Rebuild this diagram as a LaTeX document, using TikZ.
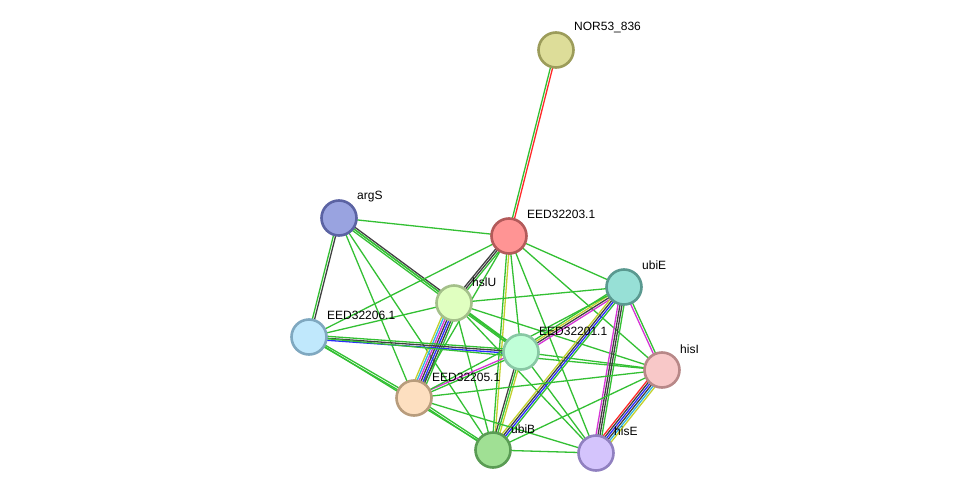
\documentclass[tikz,border=0pt]{standalone}
\usepackage{fontspec}
\setmainfont{Liberation Sans}
\usetikzlibrary{calc,backgrounds}
\definecolor{eg}{HTML}{33C033}
\definecolor{ek}{HTML}{404040}
\definecolor{er}{HTML}{FF2A2A}
\definecolor{eb}{HTML}{2A2AFF}
\definecolor{em}{HTML}{D634D6}
\definecolor{ec}{HTML}{2AB4E6}
\definecolor{ey}{HTML}{C2D12E}
\tikzset{
  prot/.style={circle, minimum size=35pt, inner sep=0pt, line width=2.6pt},
  lab/.style={anchor=west, font=\fontsize{12}{14}\selectfont, inner sep=0pt},
  edge/.style={line width=1.3pt}
}
\newcommand\lnk[3]{\foreach \cc/\oo in {#3}{\draw[edge,\cc] ($(#1)!\oo pt!90:(#2)$) -- ($(#2)!\oo pt!-90:(#1)$);}}
\begin{document}
\begin{tikzpicture}[x=1pt,y=-1pt]
\useasboundingbox (0,0) rectangle (975,498);
% nodes
\node[prot, fill={rgb,255:red,221;green,221;blue,153}, draw={rgb,255:red,156;green,156;blue,90}] (nor) at (556,50) {};
\node[prot, fill={rgb,255:red,153;green,163;blue,224}, draw={rgb,255:red,91;green,99;blue,163}] (args) at (339,218) {};
\node[prot, fill={rgb,255:red,255;green,148;blue,148}, draw={rgb,255:red,179;green,90;blue,90}] (e03) at (509,236) {};
\node[prot, fill={rgb,255:red,151;green,224;blue,214}, draw={rgb,255:red,90;green,153;blue,144}] (ubie) at (624,287) {};
\node[prot, fill={rgb,255:red,224;green,255;blue,192}, draw={rgb,255:red,164;green,192;blue,138}] (hslu) at (454,303) {};
\node[prot, fill={rgb,255:red,192;green,232;blue,252}, draw={rgb,255:red,127;green,168;blue,192}] (e06) at (309,337) {};
\node[prot, fill={rgb,255:red,192;green,255;blue,216}, draw={rgb,255:red,136;green,200;blue,164}] (e01) at (521,352) {};
\node[prot, fill={rgb,255:red,248;green,200;blue,200}, draw={rgb,255:red,184;green,136;blue,136}] (hisi) at (662,370) {};
\node[prot, fill={rgb,255:red,253;green,223;blue,192}, draw={rgb,255:red,184;green,156;blue,124}] (e05) at (414,398) {};
\node[prot, fill={rgb,255:red,160;green,224;blue,148}, draw={rgb,255:red,90;green,156;blue,84}] (ubib) at (493,450) {};
\node[prot, fill={rgb,255:red,212;green,196;blue,252}, draw={rgb,255:red,144;green,128;blue,192}] (hise) at (596,453) {};
% labels
\node[lab] (lnor) at (574,28) {NOR53\_836};
\node[lab] (largs) at (357,197) {argS};
\node[lab] (le03) at (527,214) {EED32203.1};
\node[lab] (lubie) at (642,265) {ubiE};
\node[lab] (lhslu) at (472,282) {hslU};
\node[lab] (le06) at (327,315) {EED32206.1};
\node[lab] (le01) at (539,331) {EED32201.1};
\node[lab] (lhisi) at (680,349) {hisI};
\node[lab] (le05) at (432,377) {EED32205.1};
\node[lab] (lubib) at (511,429) {ubiB};
\node[lab] (lhise) at (614,431) {hisE};
% edges
\begin{pgfonlayer}{background}
\fill[white] (0,0) rectangle (975,498);
\lnk{nor}{e03}{eg/-1.1,er/1.1}
\lnk{args}{e03}{eg/0}
\lnk{args}{hslu}{eg/-2,eg/0,ek/2}
\lnk{args}{e06}{eg/-1.1,ek/1.1}
\lnk{args}{e05}{eg/0}
\lnk{args}{ubib}{eg/0}
\lnk{args}{e01}{eg/0}
\lnk{e03}{hslu}{ek/-2,ek/0,eg/2}
\lnk{e03}{e06}{eg/0}
\lnk{e03}{ubie}{eg/0}
\lnk{e03}{hisi}{eg/0}
\lnk{e03}{hise}{eg/0}
\lnk{e03}{e01}{eg/0}
\lnk{e03}{ubib}{eg/-1.1,ey/1.1}
\lnk{e03}{e05}{eg/0}
\lnk{hslu}{e06}{eg/0}
\lnk{hslu}{ubie}{eg/0}
\lnk{hslu}{e01}{eg/-1.1,eg/1.1}
\lnk{hslu}{e05}{ey/-6,ec/-4,em/-2,ek/0,eb/2,ek/4,eg/6}
\lnk{hslu}{ubib}{eg/0}
\lnk{hslu}{hisi}{eg/0}
\lnk{hslu}{hise}{eg/0}
\lnk{e06}{e01}{eb/-2,ek/0,eg/2}
\lnk{e06}{e05}{eg/-1.1,eg/1.1}
\lnk{e06}{ubib}{eg/0}
\lnk{e06}{hisi}{eg/0}
\lnk{e01}{ubie}{em/-3,ek/-1,ey/1,eg/3}
\lnk{e01}{e05}{em/-1.1,eg/1.1}
\lnk{e01}{ubib}{ek/-2,eg/0,ey/2}
\lnk{e01}{hisi}{eg/0}
\lnk{e01}{hise}{eg/0}
\lnk{ubie}{ubib}{ey/-3,ek/-1,eb/1,eg/3}
\lnk{ubie}{hise}{em/-3,ek/-1,ek/1,eg/3}
\lnk{ubie}{hisi}{em/-1.1,eg/1.1}
\lnk{ubie}{e05}{eg/0}
\lnk{hisi}{hise}{er/-5,ek/-3,eb/-1,ek/1,ec/3,ey/5}
\lnk{hisi}{ubib}{eg/0}
\lnk{hisi}{e05}{eg/0}
\lnk{hise}{ubib}{eg/0}
\lnk{hise}{e05}{eg/0}
\lnk{e05}{ubib}{eg/-1.1,eg/1.1}
\end{pgfonlayer}
\end{tikzpicture}
\end{document}
